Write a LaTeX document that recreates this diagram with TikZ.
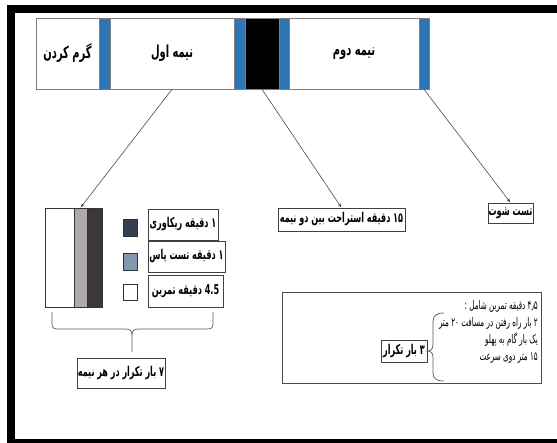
\documentclass[tikz,border=0pt]{standalone}
\usepackage{fontspec}
\usepackage{tikz}
\usetikzlibrary{arrows.meta}
\usetikzlibrary{shadows}
\TeXXeTstate=1
\newfontfamily\fa[Script=Arabic,FakeStretch=0.6]{DejaVu Sans}

\definecolor{stripblue}{HTML}{2E75B6}
\definecolor{restgray}{HTML}{AEAAAA}
\definecolor{workdark}{HTML}{3B3838}
\definecolor{keynavy}{HTML}{333F50}
\definecolor{keysteel}{HTML}{8497B0}
\definecolor{edgegray}{HTML}{7F7F7F}

\begin{document}
\begin{tikzpicture}[x=1pt, y=-1pt,
    seg/.style={draw=edgegray, line width=0.6pt, inner sep=0pt, minimum height=71pt,
                font=\fa\bfseries\fontsize{16.5}{18}\selectfont},
    blk/.style={draw=black!80, line width=0.6pt, inner sep=0pt},
    lbl/.style={draw=black!75, line width=0.7pt, fill=white, inner sep=0pt,
                font=\fa\bfseries\fontsize{13.5}{15}\selectfont,
                drop shadow={shadow xshift=0.8pt, shadow yshift=-0.8pt, opacity=0.45, fill=black}},
    arr/.style={draw=black!70, line width=0.6pt, -{Latex[length=4pt,width=3pt]}}]

    % === 0. Cornice esterna ===
    \useasboundingbox (0,0) rectangle (557,443);
    \clip (0,0) rectangle (557,443);
    \draw[line width=8pt] (11,9) rectangle (580,443);

    % === 1. Barra della partita ===
    \node[seg, minimum width=63pt] (warm) at (67.5,53.5) {\beginR گرم کردن\endR};
    \node[seg, fill=stripblue, minimum width=11pt] (blueA) at (104.5,53.5) {};
    \node[seg, minimum width=124pt] (halfA) at (172,53.5) {\beginR نیمه اول\endR};
    \node[seg, fill=stripblue, minimum width=11pt] (blueB) at (239.5,53.5) {};
    \node[seg, fill=black, minimum width=34pt] (rest) at (262,53.5) {};
    \node[seg, fill=stripblue, minimum width=10pt] (blueC) at (284,53.5) {};
    \node[seg, minimum width=130pt] (halfB) at (354,53.5) {\beginR نیمه دوم\endR};
    \node[seg, fill=stripblue, minimum width=10pt] (blueD) at (424,53.5) {};

    % === 2. Blocco di un ciclo ===
    \node[blk, fill=white, minimum width=29pt, minimum height=99pt] (workcol) at (59.5,257.5) {};
    \node[blk, fill=restgray, minimum width=13pt, minimum height=99pt] (passcol) at (80.5,257.5) {};
    \node[blk, fill=workdark, minimum width=15pt, minimum height=99pt] (recocol) at (94.5,257.5) {};

    % === 3. Legenda ===
    \node[blk, fill=keynavy, minimum width=14pt, minimum height=17pt] (keyA) at (130,227.5) {};
    \node[blk, fill=keysteel, minimum width=14pt, minimum height=17pt] (keyB) at (130,262) {};
    \node[blk, fill=white, minimum width=14pt, minimum height=16pt] (keyC) at (130,292) {};
    \node[lbl, minimum width=70pt, minimum height=31pt] (txtA) at (183,224.5) {\beginR ۱ دقیقه ریکاوری\endR};
    \node[lbl, minimum width=77pt, minimum height=31pt] (txtB) at (186.5,256.5) {\beginR ۱ دقیقه تست پاس\endR};
    \node[lbl, minimum width=75pt, minimum height=32pt] (txtC) at (185.5,291) {\beginR 4.5 دقیقه تمرین\endR};

    % Graffa sotto il blocco
    \draw[draw=black!65, line width=0.7pt] (52,312) -- (52,324) .. controls (52,328) and (54,329) .. (58,329)
        -- (126,329) .. controls (130,329) and (132,331) .. (132,335) -- (132,352);
    \draw[draw=black!65, line width=0.7pt] (213,312) -- (213,324) .. controls (213,328) and (211,329) .. (207,329)
        -- (138,329) .. controls (134,329) and (132,331) .. (132,335);
    \node[lbl, minimum width=88pt, minimum height=30pt] (reps) at (121,373) {\beginR ۷ بار تکرار در هر نیمه\endR};

    % === 4. Etichette di riposo e tiro ===
    \node[lbl, minimum width=127pt, minimum height=23pt] (restlbl) at (341.5,219.5) {\beginR ۱۵ دقیقه استراحت بین دو نیمه\endR};
    \node[lbl, minimum width=45pt, minimum height=20pt] (shot) at (510.5,213) {\beginR تست شوت\endR};

    % === 5. Riquadro esercizio ===
    \node[draw=black!70, line width=0.7pt, fill=white, inner sep=0pt,
          minimum width=259pt, minimum height=91pt,
          drop shadow={shadow xshift=0.8pt, shadow yshift=-0.8pt, opacity=0.45, fill=black}] (drill) at (411.5,337.5) {};
    \node[align=right, anchor=north east, inner sep=0pt, font=\fa\fontsize{12}{17}\selectfont] (steps) at (538,300)
        {\beginR ۴٫۵ دقیقه تمرین شامل :\endR\\
         \beginR ۲ بار راه رفتن در مسافت ۲۰ متر\endR\\
         \beginR یک بار گام به پهلو\endR\\
         \beginR ۱۵ متر دوی سرعت\endR};
    \node[lbl, minimum width=46pt, minimum height=22pt] (sets) at (404,351) {\beginR ۳ بار تکرار\endR};
    \draw[draw=black!65, line width=0.7pt] (444,313) .. controls (436,313) and (433,316) .. (433,322)
        -- (433,344) .. controls (433,349) and (431,351) .. (sets.east)
        .. controls (431,351) and (433,353) .. (433,358) -- (433,373)
        .. controls (433,378) and (436,381) .. (444,381);

    % === 6. Collegamenti ===
    \draw[arr] (halfA.south) -- (passcol.north);
    \draw[arr] (rest.south) -- (restlbl.north);
    \draw[arr] (blueD.south) -- (shot.north);

\end{tikzpicture}
\end{document}
